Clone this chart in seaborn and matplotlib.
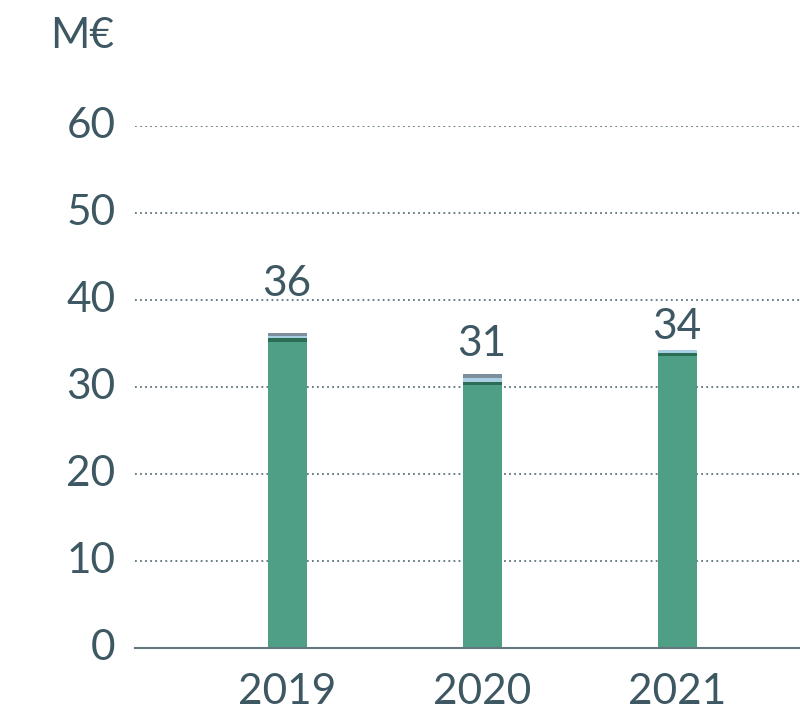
import matplotlib
matplotlib.use("Agg")
import matplotlib.pyplot as plt
import seaborn as sns
import pandas as pd

years = ["2019", "2020", "2021"]
main = [35.2, 30.2, 33.55]
dark = [0.45, 0.35, 0.35]
light = [0.25, 0.45, 0.35]
grey = [0.3, 0.45, 0.0]
totals_label = ["36", "31", "34"]
yticks = [0, 10, 20, 30, 40, 50, 60]

TEXT = "#3d5863"
FS = 30.5
sns.set_theme(style="white")
plt.rcParams["font.family"] = ["Lato", "DejaVu Sans"]

fig = plt.figure(figsize=(8, 7.13), dpi=100)
ax = fig.add_axes([135 / 800, (713 - 648) / 713, 665 / 800, (648 - 126) / 713])

df = pd.DataFrame({"year": years, "main": main, "dark": dark, "light": light, "grey": grey})
df["c_main"] = df["main"]
df["c_dark"] = df["c_main"] + df["dark"]
df["c_light"] = df["c_dark"] + df["light"]
df["c_grey"] = df["c_light"] + df["grey"]

# stacked segments drawn as overlapping cumulative bars, tallest first
layers = [("c_grey", "#7d8f9c"), ("c_light", "#a9d0e2"), ("c_dark", "#2b6e55"), ("c_main", "#4f9e86")]
for col, colr in layers:
    sns.barplot(data=df, x="year", y=col, color=colr, width=0.2, saturation=1,
                ax=ax, order=years, zorder=3, linewidth=0, edgecolor="none")

ax.set_xlim(-0.78, 2.63)
ax.set_ylim(0, 60)
ax.set_yticks(yticks)
ax.set_yticklabels([str(t) for t in yticks])
ax.set_xlabel("")
ax.set_ylabel("")
for t in yticks[1:]:
    ax.axhline(t, color="#5f737b", lw=1.3, ls=(0, (1, 1.8)), zorder=1)
for s in ["top", "right", "left"]:
    ax.spines[s].set_visible(False)
ax.spines["bottom"].set_color("#66787f")
ax.spines["bottom"].set_linewidth(1.5)
ax.spines["bottom"].set_zorder(4)
ax.tick_params(axis="y", length=0, pad=14, labelsize=FS, labelcolor=TEXT)
ax.tick_params(axis="x", length=0, pad=18, labelsize=FS, labelcolor=TEXT)
for lbl in ax.get_yticklabels():
    lbl.set_verticalalignment("center")

label_offsets = [36, 17, 10]
for i, (tot, txt) in enumerate(zip(df["c_grey"], totals_label)):
    ax.annotate(txt, (i, tot), xytext=(0, label_offsets[i] * 0.72 - 4), textcoords="offset points",
                ha="center", va="bottom", fontsize=FS, color=TEXT)

fig.text(82 / 800, 1 - 36 / 713, "M€", ha="center", va="center", fontsize=FS, color=TEXT)

fig.savefig("out.png", dpi=100)
